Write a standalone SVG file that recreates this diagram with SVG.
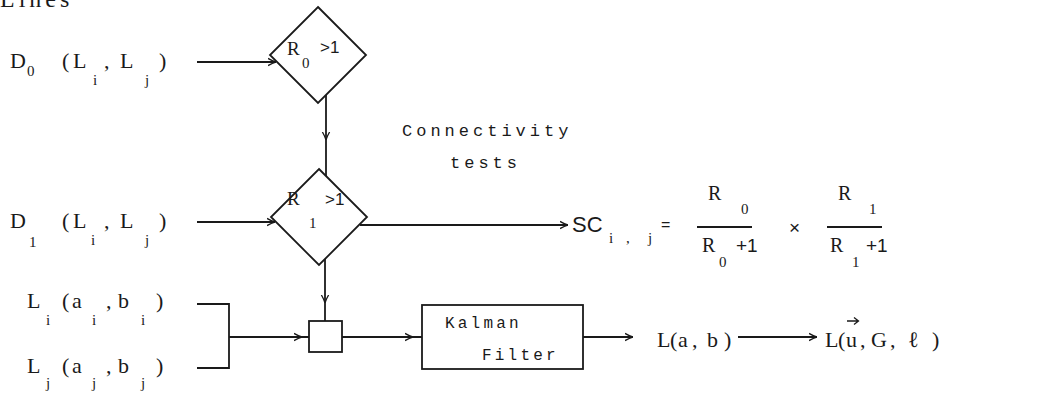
<svg xmlns="http://www.w3.org/2000/svg" width="1064" height="397" viewBox="0 0 1064 397">
<style>
.t{font-family:"Liberation Serif","DejaVu Serif",serif;font-size:22px;fill:#1a1a1a}
.s{font-family:"Liberation Serif","DejaVu Serif",serif;font-size:15px;fill:#1a1a1a}
.m{font-family:"Liberation Mono","DejaVu Sans Mono",monospace;fill:#1a1a1a}
.sa{font-family:"Liberation Sans","DejaVu Sans",sans-serif;fill:#1a1a1a}
.ln{fill:none;stroke:#1a1a1a;stroke-width:1.8}
.nd{fill:#fff;stroke:#1a1a1a;stroke-width:1.8}
</style>
<defs>
<marker id="ah" viewBox="0 0 10 10" refX="10" refY="5" markerWidth="8" markerHeight="10" markerUnits="userSpaceOnUse" orient="auto">
<path d="M0,0.5 Q6,4 10,5 Q6,6 0,9.5" fill="none" stroke="#1a1a1a" stroke-width="1.6"/>
</marker>
</defs>
<rect width="1064" height="397" fill="#fff"/>
<text class="t" x="0" y="7" style="font-size:24px;letter-spacing:4px">Lines</text>
<g id="connectors">
<path class="ln" d="M197,62 L276,62" marker-end="url(#ah)"/>
<path class="ln" d="M326,95 L326,140 L326,176" marker-mid="url(#ah)"/>
<path class="ln" d="M197,222 L275,222" marker-end="url(#ah)"/>
<path class="ln" d="M360,225 L568,225" marker-end="url(#ah)"/>
<path class="ln" d="M325,259 L325,303 L325,321" marker-mid="url(#ah)"/>
<path class="ln" d="M197,304 H229 V368 H197"/>
<path class="ln" d="M229,337 L302,337 L309,337" marker-mid="url(#ah)"/>
<path class="ln" d="M342,337 L413,337 L422,337" marker-mid="url(#ah)"/>
<path class="ln" d="M583,337 L633,337" marker-end="url(#ah)"/>
<path class="ln" d="M738,337 L817,337" marker-end="url(#ah)"/>
</g>
<g id="d0">
<text class="t" y="68"><tspan x="10">D</tspan><tspan x="62">(</tspan><tspan x="73">L</tspan><tspan x="104">,</tspan><tspan x="120">L</tspan><tspan x="159">)</tspan></text>
<text class="s" x="27" y="76">0</text><text class="s" x="93" y="85">i</text><text class="s" x="145" y="85">j</text>
</g>
<g id="d1">
<text class="t" y="228"><tspan x="10">D</tspan><tspan x="62">(</tspan><tspan x="73">L</tspan><tspan x="104">,</tspan><tspan x="120">L</tspan><tspan x="159">)</tspan></text>
<text class="s" x="29" y="247">1</text><text class="s" x="91" y="245">i</text><text class="s" x="145" y="245">j</text>
</g>
<g id="li">
<text class="t" y="308"><tspan x="27">L</tspan><tspan x="62">(</tspan><tspan x="72">a</tspan><tspan x="106">,</tspan><tspan x="118">b</tspan><tspan x="156">)</tspan></text>
<text class="s" y="325"><tspan x="46">i</tspan><tspan x="92">i</tspan><tspan x="141">i</tspan></text>
</g>
<g id="lj">
<text class="t" y="373"><tspan x="27">L</tspan><tspan x="62">(</tspan><tspan x="72">a</tspan><tspan x="106">,</tspan><tspan x="118">b</tspan><tspan x="156">)</tspan></text>
<text class="s" y="388"><tspan x="46">j</tspan><tspan x="92">j</tspan><tspan x="141">j</tspan></text>
</g>
<g id="diamond0">
<polygon class="nd" points="318,7 366,55 318,103 270,55"/>
<text class="t" x="287" y="55" style="font-size:19px">R</text>
<text class="s" x="302" y="68">0</text>
<text class="sa" x="320" y="53" style="font-size:17px">&gt;1</text>
</g>
<g id="diamond1">
<polygon class="nd" points="319,169 367,217 319,265 271,217"/>
<text class="t" x="287" y="205" style="font-size:19px">R</text>
<text class="s" x="309" y="228">1</text>
<text class="sa" x="325" y="205" style="font-size:17px">&gt;1</text>
</g>
<g id="conn-label">
<text class="m" x="402" y="136" style="font-size:17px;letter-spacing:4px">Connectivity</text>
<text class="m" x="450" y="168" style="font-size:17px;letter-spacing:4px">tests</text>
</g>
<g id="sc">
<text class="sa" x="572" y="232" style="font-size:22px">SC</text>
<text class="s" y="243"><tspan x="609">i</tspan><tspan x="626">,</tspan><tspan x="648">j</tspan></text>
<text class="sa" x="661" y="230" style="font-size:16px">=</text>
<path class="ln" d="M697,227 H752 M827,227 H882"/>
<text class="t" x="708" y="200" style="font-size:20px">R</text>
<text class="s" x="741" y="214">0</text>
<text class="t" x="702" y="252" style="font-size:20px">R</text>
<text class="s" x="719" y="267">0</text>
<text class="sa" x="736" y="252" style="font-size:19px">+1</text>
<text class="sa" x="789" y="234" style="font-size:19px">×</text>
<text class="t" x="838" y="200" style="font-size:20px">R</text>
<text class="s" x="869" y="214">1</text>
<text class="t" x="830" y="252" style="font-size:20px">R</text>
<text class="s" x="852" y="267">1</text>
<text class="sa" x="866" y="252" style="font-size:19px">+1</text>
</g>
<g id="merge">
<rect class="nd" x="309" y="321" width="33" height="31"/>
</g>
<g id="kalman">
<rect class="nd" x="422" y="305" width="161" height="64"/>
<text class="m" x="445" y="328" style="font-size:16px;letter-spacing:3.2px">Kalman</text>
<text class="m" x="482" y="360" style="font-size:16px;letter-spacing:3.2px">Filter</text>
</g>
<g id="lab">
<text class="t" y="347"><tspan x="657">L</tspan><tspan x="670">(</tspan><tspan x="678">a</tspan><tspan x="692">,</tspan><tspan x="707">b</tspan><tspan x="724">)</tspan></text>
</g>
<g id="lugl">
<text class="t" y="347"><tspan x="825">L</tspan><tspan x="838">(</tspan><tspan x="846">u</tspan><tspan x="860">,</tspan><tspan x="871">G</tspan><tspan x="890">,</tspan><tspan x="908">ℓ</tspan><tspan x="932">)</tspan></text>
<path d="M847,321 H858 M854,317.5 L858.5,321 L854,324.5" fill="none" stroke="#1a1a1a" stroke-width="1.3"/>
</g>
</svg>
